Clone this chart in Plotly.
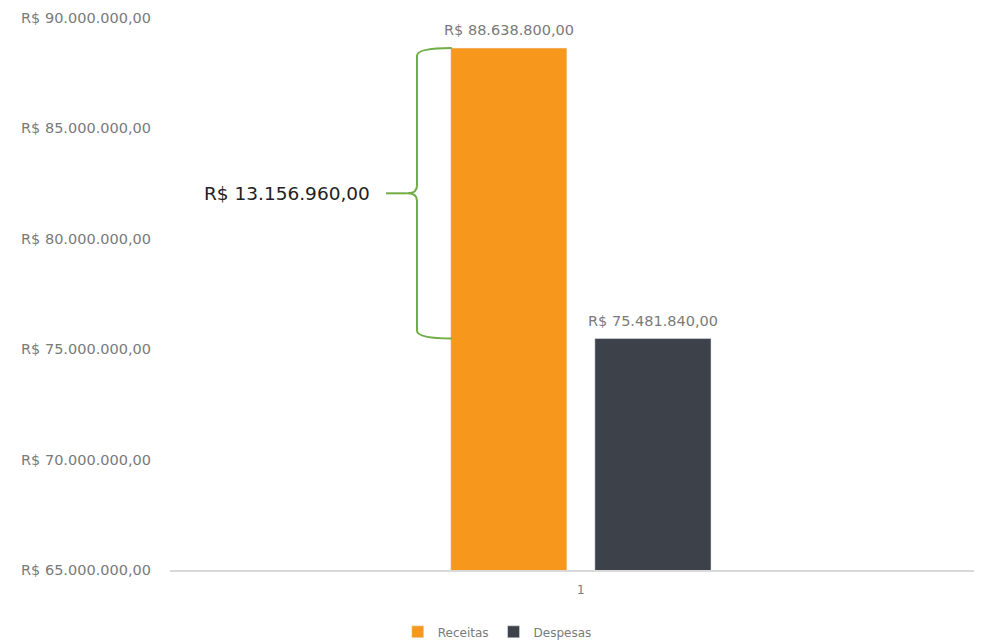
import plotly.graph_objects as go

# Data
categories = [1]
series_names = ["Receitas", "Despesas"]
receitas = [88638800.00]
despesas = [75481840.00]
bar_labels = ["R$ 88.638.800,00", "R$ 75.481.840,00"]
diff_label = "R$ 13.156.960,00"
tick_vals = [65e6, 70e6, 75e6, 80e6, 85e6, 90e6]
tick_text = ["R$ 65.000.000,00", "R$ 70.000.000,00", "R$ 75.000.000,00",
             "R$ 80.000.000,00", "R$ 85.000.000,00", "R$ 90.000.000,00"]

colors = ["#F7981D", "#3D424A"]
font_family = "DejaVu Sans"
gray = "#7a7a7a"

fig = go.Figure()
fig.add_trace(go.Bar(x=categories, y=receitas, name=series_names[0],
                     marker_color=colors[0]))
fig.add_trace(go.Bar(x=categories, y=despesas, name=series_names[1],
                     marker_color=colors[1]))

# Value labels above bars
for val, lab, shift in [(receitas[0], bar_labels[0], -72), (despesas[0], bar_labels[1], 72)]:
    fig.add_annotation(x=categories[0], y=val, xref="x", yref="y", text=lab,
                       showarrow=False, xshift=shift, yshift=18,
                       xanchor="center", yanchor="middle",
                       font=dict(size=14.5, color=gray, family=font_family))

# Brace between the two values (paper x, data y)
yt = receitas[0]
yb = despesas[0]
ym = (yt + yb) / 2
d = 0.35e6
xr, xv, xc, xl = 0.347, 0.3042, 0.293, 0.266
path = (f"M {xr},{yt} Q {xv},{yt} {xv},{yt-d} L {xv},{ym+d} "
        f"Q {xv},{ym} {xc},{ym} Q {xv},{ym} {xv},{ym-d} "
        f"L {xv},{yb+d} Q {xv},{yb} {xr},{yb}")
fig.add_shape(type="path", path=path, xref="paper", yref="y",
              line=dict(color="#70AD47", width=2))
fig.add_shape(type="line", xref="paper", yref="y", x0=xc, x1=xl, y0=ym, y1=ym,
              line=dict(color="#70AD47", width=2))
fig.add_annotation(x=0.249, y=ym, xref="paper", yref="y", text=diff_label,
                   showarrow=False, xanchor="right", yanchor="middle",
                   font=dict(size=18.5, color="#222222", family=font_family))

fig.update_layout(
    width=974, height=635,
    margin=dict(l=162, r=0, t=10, b=73, autoexpand=False),
    paper_bgcolor="white", plot_bgcolor="white",
    barmode="group", bargap=0.645, bargroupgap=0.194,
    font=dict(family=font_family, color=gray),
    showlegend=True,
    legend=dict(orientation="h", x=0.403, xanchor="center", y=-0.112,
                yanchor="middle", font=dict(size=12, color=gray),
                itemwidth=30),
    xaxis=dict(range=[0.494, 1.494], tickvals=categories,
               ticktext=[str(c) for c in categories], showgrid=False,
               zeroline=False, showline=True, linecolor="#d9d9d9",
               linewidth=2, tickfont=dict(size=12, color=gray),
               ticklabelstandoff=8, automargin=False),
    yaxis=dict(range=[65e6, 90e6], tickvals=tick_vals, ticktext=tick_text,
               showgrid=False, zeroline=False, showline=False,
               tickfont=dict(size=14.5, color=gray), ticklabelstandoff=18,
               automargin=False),
)

fig.write_html("out.html")
